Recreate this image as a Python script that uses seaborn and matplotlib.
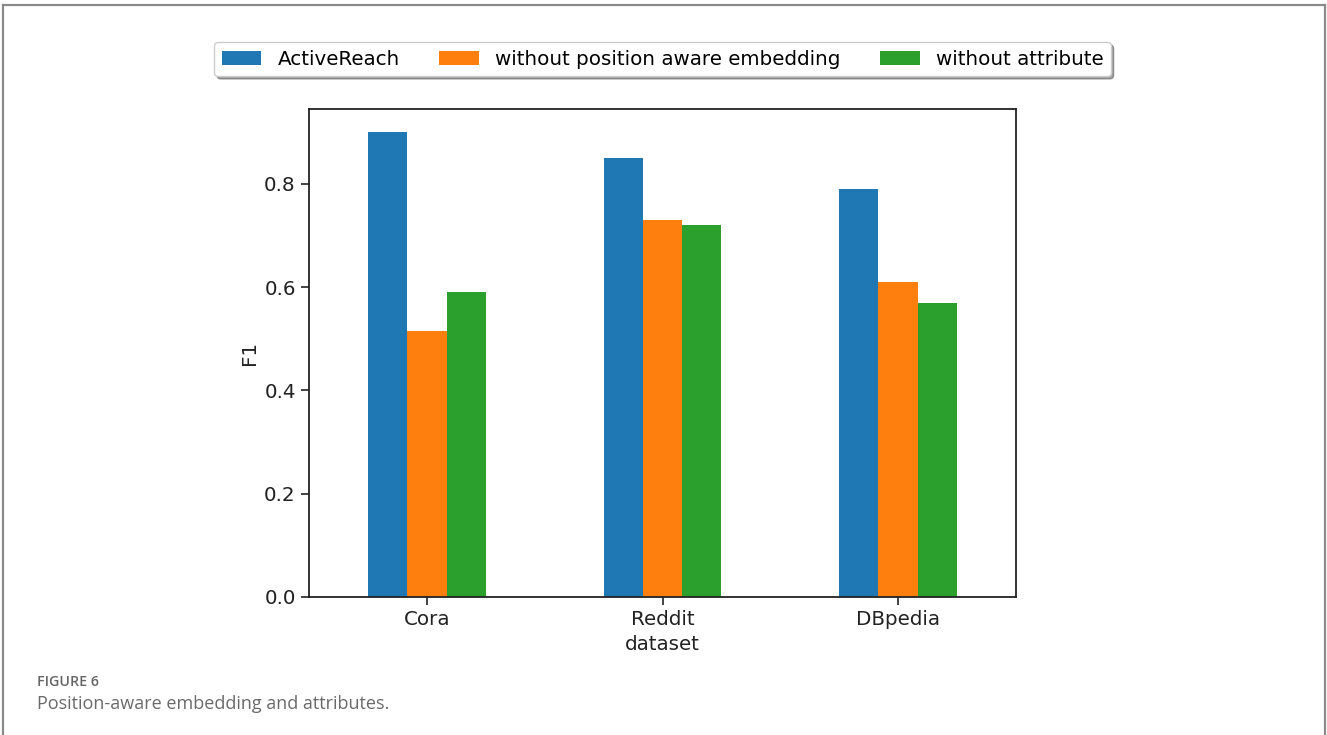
import matplotlib
matplotlib.use("Agg")
import matplotlib.pyplot as plt
from matplotlib.lines import Line2D
import seaborn as sns
import pandas as pd

# Ablation results (F1) per dataset
datasets = ["Cora", "Reddit", "DBpedia"]
variants = ["ActiveReach", "without position aware embedding", "without attribute"]
active_reach = [0.90, 0.85, 0.79]
no_position = [0.516, 0.73, 0.61]
no_attribute = [0.59, 0.72, 0.57]
colors = ["#1f77b4", "#ff7f0e", "#2ca02c"]

rows = []
for variant, values in zip(variants, [active_reach, no_position, no_attribute]):
    for ds, v in zip(datasets, values):
        rows.append({"dataset": ds, "variant": variant, "F1": v})
df = pd.DataFrame(rows)

plt.rcParams["font.family"] = ["DejaVu Sans"]
fs = 14.3

fig = plt.figure(figsize=(13.27, 7.35), dpi=100)
ax = fig.add_axes([0.2329, 0.1878, 0.7656 - 0.2329, 0.8517 - 0.1878])

sns.barplot(data=df, x="dataset", y="F1", hue="variant", order=datasets,
            hue_order=variants, palette=colors, saturation=1, width=0.5,
            errorbar=None, ax=ax, linewidth=0)

ax.set_xlim(-0.5, 2.5)
ax.set_ylim(0, 0.945)
ax.set_yticks([0.0, 0.2, 0.4, 0.6, 0.8])
ax.set_yticklabels(["0.0", "0.2", "0.4", "0.6", "0.8"])
ax.tick_params(axis="both", labelsize=fs, length=6, width=1.2, colors="#222222")
ax.set_xlabel("dataset", fontsize=fs, color="#222222")
ax.set_ylabel("F1", fontsize=fs, color="#222222")
for sp in ax.spines.values():
    sp.set_visible(True)
    sp.set_linewidth(1.3)
    sp.set_color("#222222")

handles, labels = ax.get_legend_handles_labels()
ax.legend(handles, labels, loc="lower center", bbox_to_anchor=(0.5, 1.047),
          ncol=3, fontsize=fs, shadow=True, fancybox=True, frameon=True,
          handlelength=2.0, columnspacing=2.0, borderpad=0.38)

# Page frame around the figure panel
frame_color = "#8a8a8a"
fig.add_artist(Line2D([3 / 1327, 3 / 1327], [0, 1 - 5 / 735], transform=fig.transFigure,
                      color=frame_color, lw=1.6))
fig.add_artist(Line2D([3 / 1327, 1325 / 1327], [1 - 5 / 735, 1 - 5 / 735],
                      transform=fig.transFigure, color=frame_color, lw=1.6))
fig.add_artist(Line2D([1325 / 1327, 1325 / 1327], [0, 1 - 5 / 735], transform=fig.transFigure,
                      color=frame_color, lw=1.6))

# Caption
fig.text(37 / 1327, 1 - 682 / 735, "FIGURE 6", fontsize=10.3, color="#666666",
         family="Open Sans", fontweight="semibold", va="center", ha="left")
fig.text(37 / 1327, 1 - 704 / 735, "Position-aware embedding and attributes.",
         fontsize=13, color="#6a6a6a", family="Open Sans", va="center", ha="left")

fig.savefig("out.png", dpi=100)
